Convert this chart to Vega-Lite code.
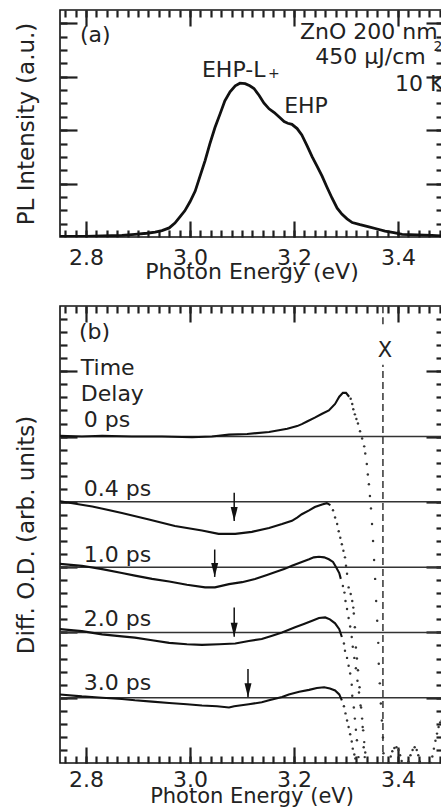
{
  "$schema": "https://vega.github.io/schema/vega-lite/v6.json",
  "padding": {"left": 15, "top": 8, "right": 0, "bottom": 0},
  "spacing": 21,
  "config": {
    "view": {"stroke": "#111", "strokeWidth": 1.6},
    "font": "DejaVu Sans",
    "axis": {"domain": false, "grid": false, "ticks": true, "zindex": 1, "tickColor": "#202020", "tickOpacity": 1, "tickWidth": 2.2, "labelColor": "#222", "titleColor": "#222", "labelFont": "DejaVu Sans", "titleFont": "DejaVu Sans", "titleFontWeight": "normal", "labelFontSize": 22, "titleFontSize": 22, "labelOverlap": false, "labelFlush": false, "minExtent": 0}
  },
  "datasets": {
    "pl": [
      {"E": 2.75, "I": 0.01}, {"E": 2.8, "I": 0.01}, {"E": 2.831, "I": 0.02}, {"E": 2.869, "I": 0.03}, {"E": 2.894, "I": 0.05}, {"E": 2.917, "I": 0.07}, {"E": 2.933, "I": 0.09}, {"E": 2.946, "I": 0.12}, {"E": 2.96, "I": 0.17}, {"E": 2.971, "I": 0.26}, {"E": 2.981, "I": 0.38}, {"E": 2.99, "I": 0.49}, {"E": 3.0, "I": 0.66}, {"E": 3.01, "I": 0.86}, {"E": 3.019, "I": 1.13}, {"E": 3.029, "I": 1.43}, {"E": 3.038, "I": 1.74}, {"E": 3.048, "I": 2.05}, {"E": 3.058, "I": 2.31}, {"E": 3.067, "I": 2.55}, {"E": 3.077, "I": 2.72}, {"E": 3.087, "I": 2.83}, {"E": 3.096, "I": 2.88}, {"E": 3.106, "I": 2.87}, {"E": 3.115, "I": 2.83}, {"E": 3.123, "I": 2.78}, {"E": 3.133, "I": 2.65}, {"E": 3.142, "I": 2.51}, {"E": 3.152, "I": 2.4}, {"E": 3.162, "I": 2.33}, {"E": 3.171, "I": 2.25}, {"E": 3.181, "I": 2.16}, {"E": 3.188, "I": 2.13}, {"E": 3.196, "I": 2.11}, {"E": 3.206, "I": 2.03}, {"E": 3.215, "I": 1.91}, {"E": 3.225, "I": 1.71}, {"E": 3.235, "I": 1.5}, {"E": 3.244, "I": 1.33}, {"E": 3.254, "I": 1.14}, {"E": 3.263, "I": 0.94}, {"E": 3.273, "I": 0.73}, {"E": 3.283, "I": 0.54}, {"E": 3.292, "I": 0.43}, {"E": 3.302, "I": 0.34}, {"E": 3.312, "I": 0.27}, {"E": 3.327, "I": 0.23}, {"E": 3.344, "I": 0.19}, {"E": 3.36, "I": 0.15}, {"E": 3.375, "I": 0.11}, {"E": 3.392, "I": 0.08}, {"E": 3.408, "I": 0.05}, {"E": 3.437, "I": 0.04}, {"E": 3.465, "I": 0.03}, {"E": 3.487, "I": 0.02}
    ],
    "annA": [
      {"E": 2.7885, "I": 3.66, "text": "(a)"},
      {"E": 3.2115, "I": 3.71, "text": "ZnO 200 nm"},
      {"E": 3.241, "I": 3.24, "text": "450 µJ/cm"},
      {"E": 3.394, "I": 2.74, "text": "10 K"},
      {"E": 3.023, "I": 2.99, "text": "EHP-L"},
      {"E": 3.181, "I": 2.33, "text": "EHP"}
    ],
    "subPlus": [{"E": 3.15, "I": 2.97, "text": "+"}],
    "supTwo": [{"E": 3.468, "I": 3.49, "text": "2"}],
    "base": [
      {"delay": "0 ps", "v": 5}, {"delay": "0.4 ps", "v": 4}, {"delay": "1.0 ps", "v": 3}, {"delay": "2.0 ps", "v": 2}, {"delay": "3.0 ps", "v": 1}
    ],
    "od": [
      {"delay": "0 ps", "E": 2.75, "v": 5.01}, {"delay": "0 ps", "E": 2.792, "v": 5.0}, {"delay": "0 ps", "E": 2.831, "v": 5.01}, {"delay": "0 ps", "E": 2.888, "v": 5.0}, {"delay": "0 ps", "E": 2.946, "v": 5.0}, {"delay": "0 ps", "E": 3.004, "v": 4.99}, {"delay": "0 ps", "E": 3.042, "v": 5.0}, {"delay": "0 ps", "E": 3.075, "v": 5.03}, {"delay": "0 ps", "E": 3.11, "v": 5.04}, {"delay": "0 ps", "E": 3.152, "v": 5.07}, {"delay": "0 ps", "E": 3.187, "v": 5.12}, {"delay": "0 ps", "E": 3.206, "v": 5.16}, {"delay": "0 ps", "E": 3.215, "v": 5.19}, {"delay": "0 ps", "E": 3.225, "v": 5.23}, {"delay": "0 ps", "E": 3.24, "v": 5.29}, {"delay": "0 ps", "E": 3.254, "v": 5.35}, {"delay": "0 ps", "E": 3.267, "v": 5.4}, {"delay": "0 ps", "E": 3.279, "v": 5.5}, {"delay": "0 ps", "E": 3.287, "v": 5.61}, {"delay": "0 ps", "E": 3.294, "v": 5.67}, {"delay": "0 ps", "E": 3.3, "v": 5.67}, {"delay": "0 ps", "E": 3.306, "v": 5.61},
      {"delay": "0.4 ps", "E": 2.75, "v": 4.01}, {"delay": "0.4 ps", "E": 2.812, "v": 3.93}, {"delay": "0.4 ps", "E": 2.869, "v": 3.83}, {"delay": "0.4 ps", "E": 2.921, "v": 3.73}, {"delay": "0.4 ps", "E": 2.971, "v": 3.63}, {"delay": "0.4 ps", "E": 3.023, "v": 3.56}, {"delay": "0.4 ps", "E": 3.055, "v": 3.51}, {"delay": "0.4 ps", "E": 3.087, "v": 3.51}, {"delay": "0.4 ps", "E": 3.119, "v": 3.54}, {"delay": "0.4 ps", "E": 3.152, "v": 3.6}, {"delay": "0.4 ps", "E": 3.177, "v": 3.66}, {"delay": "0.4 ps", "E": 3.196, "v": 3.71}, {"delay": "0.4 ps", "E": 3.206, "v": 3.76}, {"delay": "0.4 ps", "E": 3.215, "v": 3.81}, {"delay": "0.4 ps", "E": 3.229, "v": 3.87}, {"delay": "0.4 ps", "E": 3.24, "v": 3.92}, {"delay": "0.4 ps", "E": 3.254, "v": 3.96}, {"delay": "0.4 ps", "E": 3.263, "v": 3.98}, {"delay": "0.4 ps", "E": 3.27, "v": 3.95},
      {"delay": "1.0 ps", "E": 2.75, "v": 3.05}, {"delay": "1.0 ps", "E": 2.792, "v": 3.02}, {"delay": "1.0 ps", "E": 2.831, "v": 2.97}, {"delay": "1.0 ps", "E": 2.869, "v": 2.91}, {"delay": "1.0 ps", "E": 2.894, "v": 2.87}, {"delay": "1.0 ps", "E": 2.927, "v": 2.82}, {"delay": "1.0 ps", "E": 2.96, "v": 2.78}, {"delay": "1.0 ps", "E": 2.994, "v": 2.73}, {"delay": "1.0 ps", "E": 3.029, "v": 2.69}, {"delay": "1.0 ps", "E": 3.048, "v": 2.69}, {"delay": "1.0 ps", "E": 3.075, "v": 2.74}, {"delay": "1.0 ps", "E": 3.1, "v": 2.77}, {"delay": "1.0 ps", "E": 3.125, "v": 2.82}, {"delay": "1.0 ps", "E": 3.148, "v": 2.88}, {"delay": "1.0 ps", "E": 3.163, "v": 2.92}, {"delay": "1.0 ps", "E": 3.181, "v": 2.97}, {"delay": "1.0 ps", "E": 3.196, "v": 3.02}, {"delay": "1.0 ps", "E": 3.215, "v": 3.08}, {"delay": "1.0 ps", "E": 3.229, "v": 3.12}, {"delay": "1.0 ps", "E": 3.238, "v": 3.15}, {"delay": "1.0 ps", "E": 3.248, "v": 3.16}, {"delay": "1.0 ps", "E": 3.258, "v": 3.15}, {"delay": "1.0 ps", "E": 3.267, "v": 3.12}, {"delay": "1.0 ps", "E": 3.275, "v": 3.08}, {"delay": "1.0 ps", "E": 3.281, "v": 3.0}, {"delay": "1.0 ps", "E": 3.287, "v": 2.91}, {"delay": "1.0 ps", "E": 3.29, "v": 2.82},
      {"delay": "2.0 ps", "E": 2.75, "v": 2.05}, {"delay": "2.0 ps", "E": 2.792, "v": 2.02}, {"delay": "2.0 ps", "E": 2.831, "v": 1.97}, {"delay": "2.0 ps", "E": 2.869, "v": 1.94}, {"delay": "2.0 ps", "E": 2.894, "v": 1.92}, {"delay": "2.0 ps", "E": 2.927, "v": 1.88}, {"delay": "2.0 ps", "E": 2.96, "v": 1.84}, {"delay": "2.0 ps", "E": 2.994, "v": 1.82}, {"delay": "2.0 ps", "E": 3.023, "v": 1.81}, {"delay": "2.0 ps", "E": 3.056, "v": 1.82}, {"delay": "2.0 ps", "E": 3.087, "v": 1.83}, {"delay": "2.0 ps", "E": 3.113, "v": 1.87}, {"delay": "2.0 ps", "E": 3.138, "v": 1.9}, {"delay": "2.0 ps", "E": 3.158, "v": 1.95}, {"delay": "2.0 ps", "E": 3.177, "v": 2.0}, {"delay": "2.0 ps", "E": 3.202, "v": 2.08}, {"delay": "2.0 ps", "E": 3.219, "v": 2.13}, {"delay": "2.0 ps", "E": 3.235, "v": 2.18}, {"delay": "2.0 ps", "E": 3.248, "v": 2.22}, {"delay": "2.0 ps", "E": 3.26, "v": 2.23}, {"delay": "2.0 ps", "E": 3.269, "v": 2.2}, {"delay": "2.0 ps", "E": 3.279, "v": 2.14}, {"delay": "2.0 ps", "E": 3.287, "v": 2.05}, {"delay": "2.0 ps", "E": 3.292, "v": 1.93},
      {"delay": "3.0 ps", "E": 2.75, "v": 1.05}, {"delay": "3.0 ps", "E": 2.792, "v": 1.02}, {"delay": "3.0 ps", "E": 2.831, "v": 1.0}, {"delay": "3.0 ps", "E": 2.869, "v": 0.98}, {"delay": "3.0 ps", "E": 2.894, "v": 0.96}, {"delay": "3.0 ps", "E": 2.927, "v": 0.94}, {"delay": "3.0 ps", "E": 2.96, "v": 0.92}, {"delay": "3.0 ps", "E": 2.994, "v": 0.9}, {"delay": "3.0 ps", "E": 3.023, "v": 0.88}, {"delay": "3.0 ps", "E": 3.052, "v": 0.87}, {"delay": "3.0 ps", "E": 3.075, "v": 0.85}, {"delay": "3.0 ps", "E": 3.085, "v": 0.87}, {"delay": "3.0 ps", "E": 3.113, "v": 0.9}, {"delay": "3.0 ps", "E": 3.138, "v": 0.93}, {"delay": "3.0 ps", "E": 3.152, "v": 0.96}, {"delay": "3.0 ps", "E": 3.177, "v": 1.01}, {"delay": "3.0 ps", "E": 3.19, "v": 1.05}, {"delay": "3.0 ps", "E": 3.21, "v": 1.09}, {"delay": "3.0 ps", "E": 3.229, "v": 1.12}, {"delay": "3.0 ps", "E": 3.244, "v": 1.15}, {"delay": "3.0 ps", "E": 3.258, "v": 1.16}, {"delay": "3.0 ps", "E": 3.269, "v": 1.14}, {"delay": "3.0 ps", "E": 3.279, "v": 1.11}, {"delay": "3.0 ps", "E": 3.287, "v": 1.05}, {"delay": "3.0 ps", "E": 3.292, "v": 0.96}
    ],
    "tail": [
      {"delay": "0 ps", "E": 3.309, "v": 5.58}, {"delay": "0 ps", "E": 3.312, "v": 5.5}, {"delay": "0 ps", "E": 3.314, "v": 5.42}, {"delay": "0 ps", "E": 3.317, "v": 5.34}, {"delay": "0 ps", "E": 3.32, "v": 5.27}, {"delay": "0 ps", "E": 3.323, "v": 5.2}, {"delay": "0 ps", "E": 3.327, "v": 5.08}, {"delay": "0 ps", "E": 3.331, "v": 4.97}, {"delay": "0 ps", "E": 3.335, "v": 4.85}, {"delay": "0 ps", "E": 3.337, "v": 4.74}, {"delay": "0 ps", "E": 3.34, "v": 4.58}, {"delay": "0 ps", "E": 3.342, "v": 4.42}, {"delay": "0 ps", "E": 3.344, "v": 4.27}, {"delay": "0 ps", "E": 3.346, "v": 4.09}, {"delay": "0 ps", "E": 3.348, "v": 3.9}, {"delay": "0 ps", "E": 3.35, "v": 3.66}, {"delay": "0 ps", "E": 3.352, "v": 3.4}, {"delay": "0 ps", "E": 3.354, "v": 3.11}, {"delay": "0 ps", "E": 3.356, "v": 2.82}, {"delay": "0 ps", "E": 3.358, "v": 2.48}, {"delay": "0 ps", "E": 3.36, "v": 2.18}, {"delay": "0 ps", "E": 3.362, "v": 1.84}, {"delay": "0 ps", "E": 3.363, "v": 1.52}, {"delay": "0 ps", "E": 3.365, "v": 1.22}, {"delay": "0 ps", "E": 3.367, "v": 0.91}, {"delay": "0 ps", "E": 3.369, "v": 0.65}, {"delay": "0 ps", "E": 3.371, "v": 0.39}, {"delay": "0 ps", "E": 3.372, "v": 0.15},
      {"delay": "0 ps", "E": 3.383, "v": 0.0}, {"delay": "0 ps", "E": 3.386, "v": 0.1}, {"delay": "0 ps", "E": 3.389, "v": 0.18}, {"delay": "0 ps", "E": 3.393, "v": 0.23}, {"delay": "0 ps", "E": 3.397, "v": 0.24}, {"delay": "0 ps", "E": 3.401, "v": 0.2}, {"delay": "0 ps", "E": 3.404, "v": 0.12}, {"delay": "0 ps", "E": 3.407, "v": 0.03},
      {"delay": "0 ps", "E": 3.42, "v": 0.02}, {"delay": "0 ps", "E": 3.424, "v": 0.12}, {"delay": "0 ps", "E": 3.428, "v": 0.2}, {"delay": "0 ps", "E": 3.432, "v": 0.24}, {"delay": "0 ps", "E": 3.436, "v": 0.2}, {"delay": "0 ps", "E": 3.439, "v": 0.12}, {"delay": "0 ps", "E": 3.442, "v": 0.02},
      {"delay": "0 ps", "E": 3.463, "v": 0.0}, {"delay": "0 ps", "E": 3.466, "v": 0.1}, {"delay": "0 ps", "E": 3.469, "v": 0.22}, {"delay": "0 ps", "E": 3.472, "v": 0.34}, {"delay": "0 ps", "E": 3.475, "v": 0.45}, {"delay": "0 ps", "E": 3.478, "v": 0.55}, {"delay": "0 ps", "E": 3.481, "v": 0.62}, {"delay": "0 ps", "E": 3.484, "v": 0.65}, {"delay": "0 ps", "E": 3.487, "v": 0.66},
      {"delay": "0.4 ps", "E": 3.275, "v": 3.87}, {"delay": "0.4 ps", "E": 3.279, "v": 3.76}, {"delay": "0.4 ps", "E": 3.283, "v": 3.66}, {"delay": "0.4 ps", "E": 3.286, "v": 3.55}, {"delay": "0.4 ps", "E": 3.289, "v": 3.45}, {"delay": "0.4 ps", "E": 3.292, "v": 3.35}, {"delay": "0.4 ps", "E": 3.295, "v": 3.25}, {"delay": "0.4 ps", "E": 3.298, "v": 3.15}, {"delay": "0.4 ps", "E": 3.3, "v": 3.02}, {"delay": "0.4 ps", "E": 3.302, "v": 2.9}, {"delay": "0.4 ps", "E": 3.305, "v": 2.69}, {"delay": "0.4 ps", "E": 3.309, "v": 2.59}, {"delay": "0.4 ps", "E": 3.312, "v": 2.48}, {"delay": "0.4 ps", "E": 3.314, "v": 2.38}, {"delay": "0.4 ps", "E": 3.315, "v": 2.29}, {"delay": "0.4 ps", "E": 3.317, "v": 2.08}, {"delay": "0.4 ps", "E": 3.319, "v": 1.77}, {"delay": "0.4 ps", "E": 3.321, "v": 1.6}, {"delay": "0.4 ps", "E": 3.323, "v": 1.42}, {"delay": "0.4 ps", "E": 3.326, "v": 1.16}, {"delay": "0.4 ps", "E": 3.329, "v": 0.85}, {"delay": "0.4 ps", "E": 3.332, "v": 0.55}, {"delay": "0.4 ps", "E": 3.334, "v": 0.24}, {"delay": "0.4 ps", "E": 3.336, "v": 0.09},
      {"delay": "1.0 ps", "E": 3.294, "v": 2.71}, {"delay": "1.0 ps", "E": 3.297, "v": 2.61}, {"delay": "1.0 ps", "E": 3.299, "v": 2.48}, {"delay": "1.0 ps", "E": 3.302, "v": 2.36}, {"delay": "1.0 ps", "E": 3.305, "v": 2.22}, {"delay": "1.0 ps", "E": 3.308, "v": 2.09}, {"delay": "1.0 ps", "E": 3.311, "v": 1.93}, {"delay": "1.0 ps", "E": 3.313, "v": 1.78}, {"delay": "1.0 ps", "E": 3.316, "v": 1.61}, {"delay": "1.0 ps", "E": 3.319, "v": 1.45}, {"delay": "1.0 ps", "E": 3.322, "v": 1.26}, {"delay": "1.0 ps", "E": 3.325, "v": 1.08}, {"delay": "1.0 ps", "E": 3.328, "v": 0.88}, {"delay": "1.0 ps", "E": 3.331, "v": 0.68}, {"delay": "1.0 ps", "E": 3.333, "v": 0.5}, {"delay": "1.0 ps", "E": 3.335, "v": 0.32}, {"delay": "1.0 ps", "E": 3.337, "v": 0.16},
      {"delay": "2.0 ps", "E": 3.296, "v": 1.83}, {"delay": "2.0 ps", "E": 3.298, "v": 1.72}, {"delay": "2.0 ps", "E": 3.302, "v": 1.61}, {"delay": "2.0 ps", "E": 3.305, "v": 1.49}, {"delay": "2.0 ps", "E": 3.308, "v": 1.37}, {"delay": "2.0 ps", "E": 3.311, "v": 1.2}, {"delay": "2.0 ps", "E": 3.312, "v": 1.03}, {"delay": "2.0 ps", "E": 3.315, "v": 0.85}, {"delay": "2.0 ps", "E": 3.317, "v": 0.68}, {"delay": "2.0 ps", "E": 3.319, "v": 0.51}, {"delay": "2.0 ps", "E": 3.321, "v": 0.35}, {"delay": "2.0 ps", "E": 3.324, "v": 0.09},
      {"delay": "3.0 ps", "E": 3.296, "v": 0.87}, {"delay": "3.0 ps", "E": 3.299, "v": 0.76}, {"delay": "3.0 ps", "E": 3.302, "v": 0.65}, {"delay": "3.0 ps", "E": 3.305, "v": 0.55}, {"delay": "3.0 ps", "E": 3.308, "v": 0.44}, {"delay": "3.0 ps", "E": 3.311, "v": 0.33}, {"delay": "3.0 ps", "E": 3.313, "v": 0.22}, {"delay": "3.0 ps", "E": 3.316, "v": 0.13}, {"delay": "3.0 ps", "E": 3.318, "v": 0.07}
    ],
    "arrows": [
      {"delay": "0.4 ps", "E": 3.085, "top": 4.14, "tip": 3.705},
      {"delay": "1.0 ps", "E": 3.0475, "top": 3.27, "tip": 2.85},
      {"delay": "2.0 ps", "E": 3.085, "top": 2.38, "tip": 1.934},
      {"delay": "3.0 ps", "E": 3.1115, "top": 1.44, "tip": 1.008}
    ],
    "marker": [
      {"E": 3.371, "lo": 0, "hi": 6.1},
      {"E": 3.371, "lo": 6.72, "hi": 7}
    ],
    "xlabel": [{"E": 3.375, "v": 6.22, "text": "X"}],
    "annB": [
      {"E": 2.7865, "v": 6.5, "text": "(b)"},
      {"E": 2.79, "v": 5.945, "text": "Time"},
      {"E": 2.79, "v": 5.54, "text": "Delay"},
      {"E": 2.7956, "v": 5.14, "text": "0 ps"},
      {"E": 2.7956, "v": 4.09, "text": "0.4 ps"},
      {"E": 2.7956, "v": 3.08, "text": "1.0 ps"},
      {"E": 2.7956, "v": 2.1, "text": "2.0 ps"},
      {"E": 2.7956, "v": 1.12, "text": "3.0 ps"}
    ]
  },
  "vconcat": [
    {
      "width": 383,
      "height": 227,
      "resolve": {"axis": {"x": "independent", "y": "independent"}},
      "layer": [
        {
          "data": {"name": "pl"},
          "mark": {"type": "line", "color": "#111", "strokeWidth": 2.8, "clip": true},
          "encoding": {
            "x": {"field": "E", "type": "quantitative", "scale": {"domain": [2.75, 3.4865], "nice": false, "zero": false},
              "axis": {"orient": "bottom", "values": [2.8, 3.0, 3.2, 3.4], "format": ".1f", "offset": -16, "tickSize": 16, "labelPadding": 10, "title": "Photon Energy (eV)", "titlePadding": -7}},
            "y": {"field": "I", "type": "quantitative", "scale": {"domain": [0, 4.25], "nice": false, "zero": false},
              "axis": {"orient": "left", "values": [1, 2, 3, 4], "offset": -17, "tickSize": 17, "labels": false, "title": "PL Intensity (a.u.)", "titleFontSize": 23, "titlePadding": 20}}
          }
        },
        {
          "data": {"name": "annA"},
          "mark": {"type": "text", "align": "left", "baseline": "alphabetic", "fontSize": 22, "color": "#222", "clip": true},
          "encoding": {
            "x": {"field": "E", "type": "quantitative", "scale": {"domain": [2.75, 3.4865], "nice": false, "zero": false},
              "axis": {"orient": "bottom", "values": [2.76,2.78,2.8,2.82,2.84,2.86,2.88,2.9,2.92,2.94,2.96,2.98,3.0,3.02,3.04,3.06,3.08,3.1,3.12,3.14,3.16,3.18,3.2,3.22,3.24,3.26,3.28,3.3,3.32,3.34,3.36,3.38,3.4,3.42,3.44,3.46,3.48], "offset": -7, "tickSize": 7, "labels": false, "title": null}},
            "y": {"field": "I", "type": "quantitative", "scale": {"domain": [0, 4.25], "nice": false, "zero": false},
              "axis": {"orient": "left", "values": [0.25,0.5,0.75,1,1.25,1.5,1.75,2,2.25,2.5,2.75,3,3.25,3.5,3.75,4], "offset": -7, "tickSize": 7, "labels": false, "title": null}},
            "text": {"field": "text"}
          }
        },
        {
          "data": {"name": "subPlus"},
          "mark": {"type": "text", "align": "left", "baseline": "alphabetic", "fontSize": 14, "color": "#222", "clip": true},
          "encoding": {
            "x": {"field": "E", "type": "quantitative", "scale": {"domain": [2.75, 3.4865], "nice": false, "zero": false},
              "axis": {"orient": "top", "values": [2.8, 3.0, 3.2, 3.4], "offset": -16, "tickSize": 16, "labels": false, "title": null}},
            "y": {"field": "I", "type": "quantitative", "scale": {"domain": [0, 4.25], "nice": false, "zero": false},
              "axis": {"orient": "right", "values": [1, 2, 3, 4], "offset": -17, "tickSize": 17, "labels": false, "title": null}},
            "text": {"field": "text"}
          }
        },
        {
          "data": {"name": "supTwo"},
          "mark": {"type": "text", "align": "left", "baseline": "alphabetic", "fontSize": 14, "color": "#222", "clip": true},
          "encoding": {
            "x": {"field": "E", "type": "quantitative", "scale": {"domain": [2.75, 3.4865], "nice": false, "zero": false},
              "axis": {"orient": "top", "values": [2.76,2.78,2.8,2.82,2.84,2.86,2.88,2.9,2.92,2.94,2.96,2.98,3.0,3.02,3.04,3.06,3.08,3.1,3.12,3.14,3.16,3.18,3.2,3.22,3.24,3.26,3.28,3.3,3.32,3.34,3.36,3.38,3.4,3.42,3.44,3.46,3.48], "offset": -7, "tickSize": 7, "labels": false, "title": null}},
            "y": {"field": "I", "type": "quantitative", "scale": {"domain": [0, 4.25], "nice": false, "zero": false},
              "axis": {"orient": "right", "values": [0.25,0.5,0.75,1,1.25,1.5,1.75,2,2.25,2.5,2.75,3,3.25,3.5,3.75,4], "offset": -7, "tickSize": 7, "labels": false, "title": null}},
            "text": {"field": "text"}
          }
        }
      ]
    },
    {
      "width": 383,
      "height": 457,
      "resolve": {"axis": {"x": "independent", "y": "independent"}},
      "layer": [
        {
          "data": {"name": "base"},
          "mark": {"type": "rule", "color": "#333", "strokeWidth": 1.5},
          "encoding": {
            "y": {"field": "v", "type": "quantitative", "scale": {"domain": [0, 7], "nice": false, "zero": false}, "axis": null}
          }
        },
        {
          "data": {"name": "od"},
          "mark": {"type": "line", "color": "#111", "strokeWidth": 2.1, "clip": true},
          "encoding": {
            "x": {"field": "E", "type": "quantitative", "scale": {"domain": [2.75, 3.4865], "nice": false, "zero": false},
              "axis": {"orient": "bottom", "values": [2.8, 3.0, 3.2, 3.4], "format": ".1f", "offset": -16, "tickSize": 16, "labelPadding": 6.5, "title": "Photon Energy (eV)", "titleFontSize": 21, "titlePadding": -5.5}},
            "y": {"field": "v", "type": "quantitative", "scale": {"domain": [0, 7], "nice": false, "zero": false},
              "axis": {"orient": "left", "values": [1, 2, 3, 4, 5, 6], "offset": -17, "tickSize": 17, "labels": false, "title": "Diff. O.D. (arb. units)", "titleFontSize": 23, "titlePadding": 20}},
            "detail": {"field": "delay"}
          }
        },
        {
          "data": {"name": "tail"},
          "mark": {"type": "point", "filled": true, "size": 6, "color": "#333", "opacity": 1, "clip": true},
          "encoding": {
            "x": {"field": "E", "type": "quantitative", "scale": {"domain": [2.75, 3.4865], "nice": false, "zero": false},
              "axis": {"orient": "bottom", "values": [2.76,2.78,2.8,2.82,2.84,2.86,2.88,2.9,2.92,2.94,2.96,2.98,3.0,3.02,3.04,3.06,3.08,3.1,3.12,3.14,3.16,3.18,3.2,3.22,3.24,3.26,3.28,3.3,3.32,3.34,3.36,3.38,3.4,3.42,3.44,3.46,3.48], "offset": -7, "tickSize": 7, "labels": false, "title": null}},
            "y": {"field": "v", "type": "quantitative", "scale": {"domain": [0, 7], "nice": false, "zero": false},
              "axis": {"orient": "left", "values": [0.2,0.4,0.6,0.8,1,1.2,1.4,1.6,1.8,2,2.2,2.4,2.6,2.8,3,3.2,3.4,3.6,3.8,4,4.2,4.4,4.6,4.8,5,5.2,5.4,5.6,5.8,6,6.2,6.4,6.6,6.8], "offset": -7, "tickSize": 7, "labels": false, "title": null}}
          }
        },
        {
          "data": {"name": "marker"},
          "mark": {"type": "rule", "color": "#333", "strokeWidth": 1.5, "strokeDash": [7, 4]},
          "encoding": {
            "x": {"field": "E", "type": "quantitative", "scale": {"domain": [2.75, 3.4865], "nice": false, "zero": false}, "axis": null},
            "y": {"field": "lo", "type": "quantitative", "scale": {"domain": [0, 7], "nice": false, "zero": false}, "axis": null},
            "y2": {"field": "hi"}
          }
        },
        {
          "data": {"name": "arrows"},
          "mark": {"type": "rule", "color": "#111", "strokeWidth": 1.5},
          "encoding": {
            "x": {"field": "E", "type": "quantitative", "scale": {"domain": [2.75, 3.4865], "nice": false, "zero": false},
              "axis": {"orient": "top", "values": [2.76,2.78,2.8,2.82,2.84,2.86,2.88,2.9,2.92,2.94,2.96,2.98,3.0,3.02,3.04,3.06,3.08,3.1,3.12,3.14,3.16,3.18,3.2,3.22,3.24,3.26,3.28,3.3,3.32,3.34,3.36,3.38,3.4,3.42,3.44,3.46,3.48], "offset": -7, "tickSize": 7, "labels": false, "title": null}},
            "y": {"field": "top", "type": "quantitative", "scale": {"domain": [0, 7], "nice": false, "zero": false},
              "axis": {"orient": "right", "values": [0.2,0.4,0.6,0.8,1,1.2,1.4,1.6,1.8,2,2.2,2.4,2.6,2.8,3,3.2,3.4,3.6,3.8,4,4.2,4.4,4.6,4.8,5,5.2,5.4,5.6,5.8,6,6.2,6.4,6.6,6.8], "offset": -7, "tickSize": 7, "labels": false, "title": null}},
            "y2": {"field": "tip"}
          }
        },
        {
          "data": {"name": "arrows"},
          "mark": {"type": "point", "shape": "M-0.25,-1L0.25,-1L0,0Z", "size": 784, "filled": true, "color": "#111", "opacity": 1, "strokeWidth": 0},
          "encoding": {
            "x": {"field": "E", "type": "quantitative", "scale": {"domain": [2.75, 3.4865], "nice": false, "zero": false}, "axis": null},
            "y": {"field": "tip", "type": "quantitative", "scale": {"domain": [0, 7], "nice": false, "zero": false}, "axis": null}
          }
        },
        {
          "data": {"name": "annB"},
          "mark": {"type": "text", "align": "left", "baseline": "alphabetic", "fontSize": 22, "color": "#222", "clip": true},
          "encoding": {
            "x": {"field": "E", "type": "quantitative", "scale": {"domain": [2.75, 3.4865], "nice": false, "zero": false},
              "axis": {"orient": "top", "values": [2.8, 3.0, 3.2, 3.4], "offset": -16, "tickSize": 16, "labels": false, "title": null}},
            "y": {"field": "v", "type": "quantitative", "scale": {"domain": [0, 7], "nice": false, "zero": false},
              "axis": {"orient": "right", "values": [1, 2, 3, 4, 5, 6], "offset": -17, "tickSize": 17, "labels": false, "title": null}},
            "text": {"field": "text"}
          }
        },
        {
          "data": {"name": "xlabel"},
          "mark": {"type": "text", "align": "center", "baseline": "alphabetic", "fontSize": 21, "color": "#222"},
          "encoding": {
            "x": {"field": "E", "type": "quantitative", "scale": {"domain": [2.75, 3.4865], "nice": false, "zero": false}, "axis": null},
            "y": {"field": "v", "type": "quantitative", "scale": {"domain": [0, 7], "nice": false, "zero": false}, "axis": null},
            "text": {"field": "text"}
          }
        }
      ]
    }
  ]
}
